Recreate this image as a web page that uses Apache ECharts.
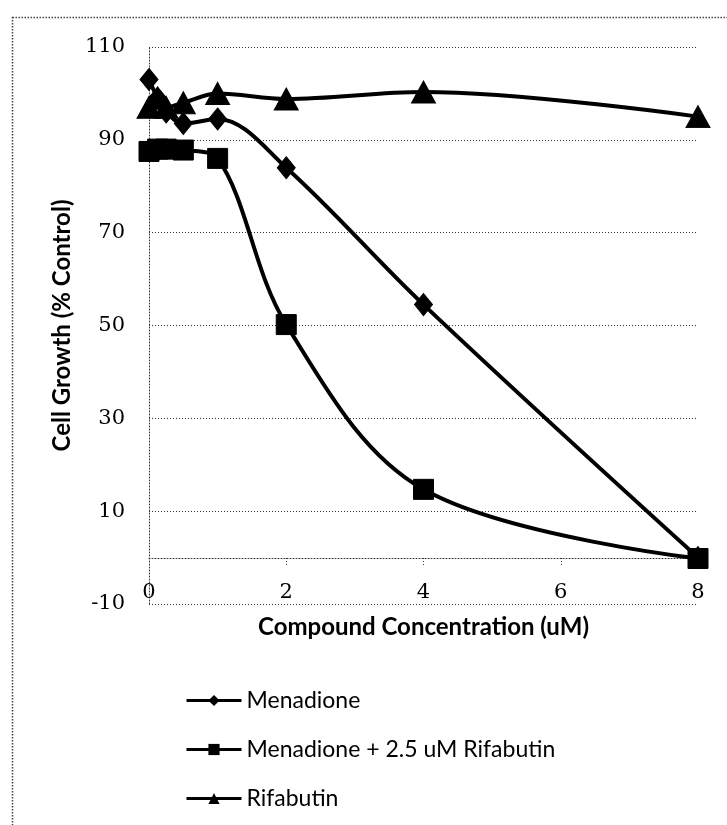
<!DOCTYPE html>
<html>
<head>
<meta charset="utf-8">
<script src="https://cdn.jsdelivr.net/npm/echarts@6/dist/echarts.min.js"></script>
<style>
html,body{margin:0;padding:0;background:#fff;}
#chart{width:727px;height:825px;}
</style>
</head>
<body>
<div id="chart"></div>
<script>
// Data
const concentrations = [0, 0.125, 0.25, 0.5, 1, 2, 4, 8];
const menadione = [103, 99, 96, 93.5, 94.5, 84, 54.5, 0];
const menadioneRifabutin = [87.5, 88, 88, 87.8, 86, 50.2, 14.7, -0.2];
const rifabutin = [97, 99, 97, 98, 100, 98.8, 100.3, 95];
const seriesNames = ['Menadione', 'Menadione + 2.5 uM Rifabutin', 'Rifabutin'];
const xTicks = [0, 2, 4, 6, 8];
const yTicks = [-10, 10, 30, 50, 70, 90, 110];

function pairs(xs, ys) { return xs.map((x, i) => [x, ys[i]]); }

const chart = echarts.init(document.getElementById('chart'), null, {renderer: 'canvas'});
const dotted = {color: '#333', width: 1, type: [1, 2]};
const serifFont = '"DejaVu Serif", "Liberation Serif", serif';
const sansFont = 'Lato, "Open Sans", sans-serif';

function lineSeries(name, data, symbol, size) {
  return {
    name: name, type: 'line', xAxisIndex: 0, yAxisIndex: 0,
    data: data, smooth: 0.35,
    symbol: symbol, symbolSize: size,
    lineStyle: {color: '#000', width: 4},
    itemStyle: {color: '#000', borderColor: '#000'},
    emphasis: {disabled: true},
    animation: false
  };
}

chart.setOption({
  animation: false,
  backgroundColor: '#fff',
  grid: {left: 149, top: 47, right: 29, bottom: 221, containLabel: false},
  graphic: [{
    type: 'rect', left: 10, top: 15, z: -1,
    shape: {width: 800, height: 900},
    style: {fill: 'none', stroke: '#444', lineWidth: 1.5, lineDash: [1.5, 1.5]}
  }],
  legend: {
    orient: 'vertical', left: 180, top: 684,
    itemWidth: 55, itemHeight: 14, itemGap: 26,
    data: seriesNames,
    lineStyle: {width: 3},
    textStyle: {fontFamily: sansFont, fontSize: 23, color: '#000'}
  },
  xAxis: [{
    type: 'value', min: 0, max: 8, interval: 2,
    name: 'Compound Concentration (uM)', nameLocation: 'middle', nameGap: 11,
    nameTextStyle: {fontFamily: sansFont, fontWeight: 'bold', fontSize: 24, color: '#000', verticalAlign: 'top'},
    axisLine: {show: false},
    axisTick: {show: false},
    splitLine: {show: false},
    axisLabel: {inside: true, margin: 1, fontFamily: serifFont, fontSize: 21, color: '#000',
      customValues: xTicks}
  }, {
    type: 'value', min: 0, max: 8, interval: 2, position: 'top', offset: -511,
    axisLine: {show: true, onZero: false, lineStyle: dotted},
    axisTick: {show: true, inside: true, length: 7, lineStyle: dotted},
    axisLabel: {show: false},
    splitLine: {show: false}
  }],
  yAxis: {
    type: 'value', min: -10, max: 110, interval: 20,
    name: 'Cell Growth (% Control)', nameLocation: 'middle', nameGap: 74,
    nameTextStyle: {fontFamily: sansFont, fontWeight: 'bold', fontSize: 24, color: '#000'},
    axisLine: {show: true, lineStyle: dotted},
    axisTick: {show: false},
    splitLine: {show: true, lineStyle: dotted},
    axisLabel: {margin: 24, fontFamily: serifFont, fontSize: 21, color: '#000', customValues: yTicks}
  },
  series: [
    lineSeries(seriesNames[0], pairs(concentrations, menadione), 'diamond', [18, 22]),
    lineSeries(seriesNames[1], pairs(concentrations, menadioneRifabutin), 'rect', [20, 20]),
    lineSeries(seriesNames[2], pairs(concentrations, rifabutin), 'triangle', [24, 22])
  ]
});
</script>
</body>
</html>
